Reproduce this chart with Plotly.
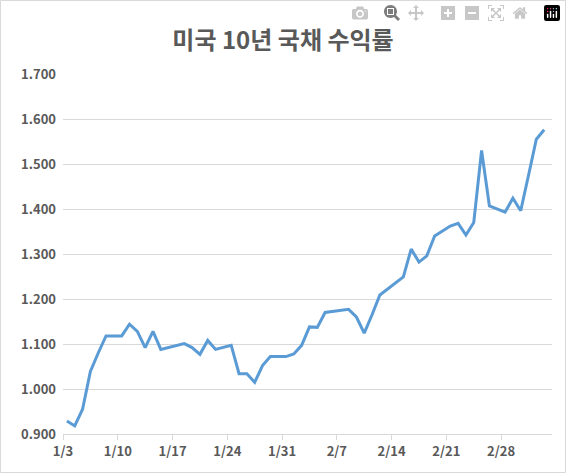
import plotly.graph_objects as go
import pandas as pd

days = [0,1,2,3,4,5,7,8,9,10,11,12,15,16,17,18,19,21,22,23,24,25,26,28,29,30,31,32,33,36,37,38,39,40,43,44,45,46,47,49,50,51,52,53,54,56,57,58,59,60,61]
values = [0.929,0.918,0.955,1.039,1.080,1.118,1.118,1.144,1.128,1.092,1.128,1.088,1.101,1.092,1.077,1.108,1.088,1.097,1.034,1.034,1.015,1.052,1.072,1.072,1.078,1.097,1.138,1.137,1.170,1.177,1.160,1.124,1.165,1.209,1.249,1.311,1.282,1.296,1.340,1.362,1.368,1.342,1.370,1.530,1.407,1.393,1.424,1.396,1.475,1.555,1.576]
tick_labels = ["1/3","1/10","1/17","1/24","1/31","2/7","2/14","2/21","2/28"]

start = pd.Timestamp("2021-01-03")
dates = [start + pd.Timedelta(days=d) for d in days]
tickvals = [start + pd.Timedelta(days=7*i) - pd.Timedelta(hours=12) for i in range(len(tick_labels))]

fig = go.Figure(go.Scatter(x=dates, y=values, mode="lines",
                           line=dict(color="#5B9BD5", width=3)))
fnt = "Noto Sans CJK KR"
fig.update_layout(
    width=566, height=473, margin=dict(l=63, r=14, t=74, b=39),
    paper_bgcolor="white", plot_bgcolor="white", showlegend=False,
    title=dict(text="<b>미국 10년 국채 수익률</b>", x=0.5, xanchor="center", y=0.915, yanchor="middle",
               font=dict(family=fnt, size=24, color="#595959")),
    font=dict(family=fnt, size=13, color="#595959"),
    xaxis=dict(type="date", range=[start - pd.Timedelta(hours=12), start + pd.Timedelta(days=62)],
               tickvals=tickvals, ticktext=[f"<b>{t}</b>" for t in tick_labels],
               showgrid=False, showline=True, linecolor="#D9D9D9", linewidth=1,
               ticks="outside", ticklen=5, tickcolor="#D9D9D9"),
    yaxis=dict(range=[0.9, 1.7], tickvals=[0.9+0.1*i for i in range(9)],
               ticktext=[f"<b>{0.9+0.1*i:.3f}</b>" for i in range(9)],
               showgrid=True, gridcolor="#D9D9D9", gridwidth=1, zeroline=False, showline=False,
               ticks="", ticklabelstandoff=6),
    shapes=[dict(type="rect", xref="paper", yref="paper", x0=-62.5/489, x1=1+13.5/489,
                 y0=-38.5/360, y1=1+73.5/360, line=dict(color="#D9D9D9", width=1))],
)
fig.write_html("out.html", post_script="document.body.style.margin='0';document.body.style.overflow='hidden';")
